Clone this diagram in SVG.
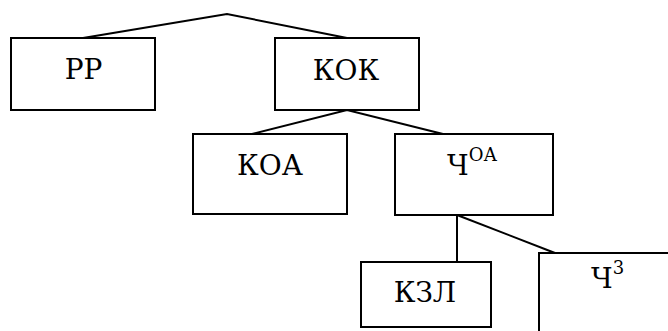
<svg xmlns="http://www.w3.org/2000/svg" width="668" height="331" viewBox="0 0 668 331">
<style>
.box{fill:#fff;stroke:#000;stroke-width:2}
.ln{fill:none;stroke:#000;stroke-width:2}
.t{font-family:"DejaVu Serif",serif;font-size:28px;fill:#000}
.sup{font-size:18px}
</style>
<rect width="668" height="331" fill="#fff"/>
<g id="connectors">
<polyline class="ln" points="83,38 227,14 347,38"/>
<polyline class="ln" points="252,134 347,110 443,134"/>
<line class="ln" x1="457" y1="215" x2="457" y2="262"/>
<line class="ln" x1="457" y1="215" x2="555" y2="253"/>
</g>
<g id="n-rr"><rect class="box" x="11" y="38" width="144" height="72"/><text class="t" x="83.5" y="79" text-anchor="middle">РР</text></g>
<g id="n-kok"><rect class="box" x="275" y="38" width="144" height="72"/><text class="t" x="346" y="80" text-anchor="middle">КОК</text></g>
<g id="n-koa"><rect class="box" x="193" y="134" width="154" height="80"/><text class="t" x="270" y="175" text-anchor="middle">КОА</text></g>
<g id="n-choa"><rect class="box" x="395" y="134" width="158" height="81"/><text class="t" x="447" y="175">Ч<tspan class="sup" dy="-14">ОА</tspan></text></g>
<g id="n-kzl"><rect class="box" x="361" y="262" width="130" height="65"/><text class="t" x="425" y="302" text-anchor="middle">КЗЛ</text></g>
<g id="n-ch3"><rect class="box" x="539" y="253" width="140" height="90"/><text class="t" x="591" y="288">Ч<tspan class="sup" dy="-14">3</tspan></text></g>
</svg>
